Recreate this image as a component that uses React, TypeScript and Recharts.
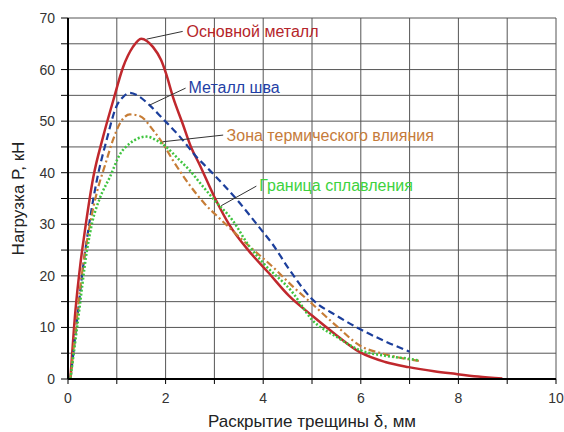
import {
  LineChart,
  Line,
  XAxis,
  YAxis,
  CartesianGrid,
  ReferenceLine,
  ReferenceDot,
} from 'recharts'

// Основной металл
const baseX = [0.05, 0.15, 0.25, 0.35, 0.52, 0.72, 0.93, 1.13, 1.33, 1.5, 1.74, 1.91, 2.01, 2.15, 2.35, 2.52, 2.7, 3.0, 3.3, 3.71, 4.1, 4.53, 5.0, 5.5, 5.98, 6.5, 6.98, 7.5, 7.93, 8.4, 8.9]
const baseY = [0, 13, 22, 29, 39.2, 47, 54.1, 60.5, 64.4, 66, 64.4, 61.8, 59.2, 54.7, 49.5, 45, 41.5, 35.3, 30, 24.8, 20.7, 16.1, 12.3, 8.5, 5.2, 3.3, 2.3, 1.5, 1.0, 0.5, 0.1]

// Металл шва
const weldX = [0.05, 0.18, 0.3, 0.45, 0.59, 0.79, 0.99, 1.13, 1.27, 1.47, 1.67, 1.94, 2.29, 2.63, 2.9, 3.44, 3.92, 4.18, 4.53, 5.0, 5.5, 5.98, 6.5, 7.0]
const weldY = [0, 11, 21, 31, 38.5, 46.3, 52.8, 54.7, 55.5, 54.7, 53.1, 50.5, 47, 43.1, 40.5, 35, 29.4, 26.3, 21.3, 15.5, 12.3, 9.7, 7.3, 5.3]

// Зона термического влияния
const hazX = [0.05, 0.15, 0.28, 0.45, 0.6, 0.76, 0.92, 1.06, 1.27, 1.47, 1.74, 1.94, 2.15, 2.5, 2.8, 3.1, 3.4, 3.71, 4.2, 4.6, 5.0, 5.5, 5.98, 6.5, 7.19]
const hazY = [0, 9, 20, 30, 36.5, 41.5, 46.3, 49.5, 51.3, 51, 48.3, 45.7, 42.4, 37.5, 34, 31.2, 28.5, 25.8, 21.7, 18, 14.6, 10.3, 6.5, 4.8, 3.5]

// Граница сплавления
const fusionX = [0.05, 0.2, 0.39, 0.5, 0.65, 0.86, 1.06, 1.27, 1.61, 1.81, 2.01, 2.29, 2.49, 2.75, 3.0, 3.37, 3.71, 4.0, 4.6, 5.0, 5.5, 5.98, 6.5, 7.0, 7.19]
const fusionY = [0, 11, 25, 30.5, 35, 39.2, 43.5, 45.7, 47, 46.3, 45, 42.4, 40.5, 37.5, 34.7, 30.8, 25.8, 22.5, 16.8, 11.5, 8.2, 5.6, 4.5, 3.9, 3.6]

const xTicks = [0, 1, 2, 3, 4, 5, 6, 7, 8, 9, 10]
const yTicks = [0, 5, 10, 15, 20, 25, 30, 35, 40, 45, 50, 55, 60, 65, 70]

const toPoints = (xs: number[], ys: number[]) => xs.map((x, i) => ({ x, y: ys[i] }))

interface Series {
  name: string
  data: { x: number; y: number }[]
  color: string
  textColor: string
  dash?: string
  width: number
  // label anchor and leader line, in data units
  label: { x: number; y: number }
  leader: [number, number, number, number]
}

const series: Series[] = [
  {
    name: 'Основной металл',
    data: toPoints(baseX, baseY),
    color: '#c0282d',
    textColor: '#b5252a',
    width: 2.5,
    label: { x: 2.43, y: 67.4 },
    leader: [1.61, 65.9, 2.35, 67.4],
  },
  {
    name: 'Металл шва',
    data: toPoints(weldX, weldY),
    color: '#1c3f9c',
    textColor: '#1f3fa5',
    dash: '7 4',
    width: 2.2,
    label: { x: 2.47, y: 56.5 },
    leader: [1.67, 53.1, 2.41, 56.4],
  },
  {
    name: 'Зона термического влияния',
    data: toPoints(hazX, hazY),
    color: '#c77d36',
    textColor: '#c57b3a',
    dash: '7 3 2 3',
    width: 2.2,
    label: { x: 3.25, y: 47.3 },
    leader: [1.94, 46.0, 3.18, 47.3],
  },
  {
    name: 'Граница сплавления',
    data: toPoints(fusionX, fusionY),
    color: '#3fc43f',
    textColor: '#3dd23d',
    dash: '2 2',
    width: 2.5,
    label: { x: 3.92, y: 37.6 },
    leader: [3.14, 33.6, 3.86, 37.4],
  },
]

export default function App() {
  return (
    <div style={{ position: 'absolute', left: 0, top: 0, fontFamily: '"Liberation Sans", Arial, sans-serif', background: '#fff' }}>
      <LineChart width={564} height={432} margin={{ top: 18, right: 8, bottom: 0, left: 0 }}>
        <CartesianGrid stroke="#555" strokeWidth={1} />
        <XAxis
          type="number"
          dataKey="x"
          domain={[0, 10]}
          ticks={xTicks}
          tickFormatter={(v: number) => (v % 2 === 0 ? String(v) : '')}
          tick={{ fill: '#333', fontSize: 14 }}
          tickLine={{ stroke: '#000' }}
          tickSize={5}
          tickMargin={9}
          axisLine={{ stroke: '#000', strokeWidth: 2 }}
          height={53}
          allowDataOverflow
          label={{ value: 'Раскрытие трещины δ, мм', position: 'insideBottom', offset: 5, fill: '#222', fontSize: 17 }}
        />
        <YAxis
          type="number"
          dataKey="y"
          domain={[0, 70]}
          ticks={yTicks}
          tickFormatter={(v: number) => (v % 10 === 0 ? String(v) : '')}
          tick={{ fill: '#333', fontSize: 14 }}
          tickLine={{ stroke: '#000' }}
          tickSize={7}
          tickMargin={6}
          axisLine={{ stroke: '#000', strokeWidth: 2 }}
          width={68}
          allowDataOverflow
          label={{ value: 'Нагрузка P, кН', angle: -90, position: 'insideLeft', offset: 18, fill: '#222', fontSize: 17, style: { textAnchor: 'middle' } }}
        />
        {series.map((s) => (
          <Line
            key={s.name}
            data={s.data}
            dataKey="y"
            type="monotone"
            stroke={s.color}
            strokeWidth={s.width}
            strokeDasharray={s.dash}
            dot={false}
            activeDot={false}
            isAnimationActive={false}
          />
        ))}
        {series.map((s) => (
          <ReferenceLine
            key={s.name + '-leader'}
            segment={[
              { x: s.leader[0], y: s.leader[1] },
              { x: s.leader[2], y: s.leader[3] },
            ]}
            stroke="#333"
            strokeWidth={1}
          />
        ))}
        {series.map((s) => (
          <ReferenceDot
            key={s.name + '-label'}
            x={s.label.x}
            y={s.label.y}
            r={0}
            stroke="none"
            fill="none"
            label={{ value: s.name, position: 'right', offset: 0, fill: s.textColor, fontSize: 16 }}
          />
        ))}
      </LineChart>
    </div>
  )
}
